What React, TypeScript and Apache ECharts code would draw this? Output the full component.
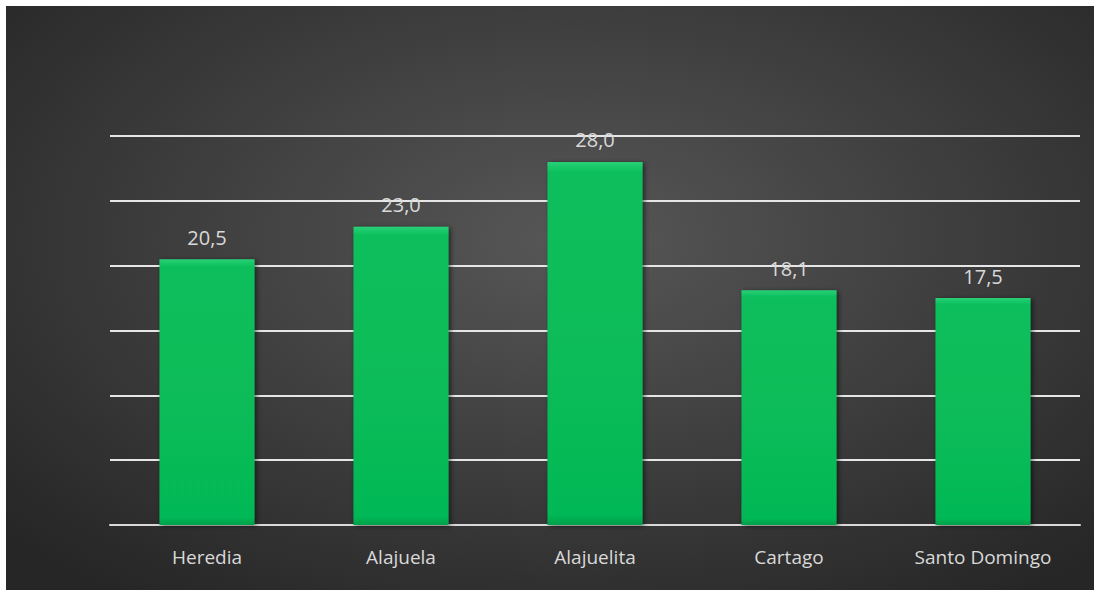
import React, { useEffect, useRef } from "react";
import * as echarts from "echarts";

const categories = ["Heredia", "Alajuela", "Alajuelita", "Cartago", "Santo Domingo"];
const values = [20.5, 23.0, 28.0, 18.1, 17.5];

export default function App() {
  const ref = useRef<HTMLDivElement>(null);
  useEffect(() => {
    const chart = echarts.init(ref.current!, undefined, { renderer: "svg" });
    chart.setOption({
      animation: false,
      grid: { left: 104, right: 14, top: 130, bottom: 65 },
      xAxis: {
        type: "category",
        data: categories,
        axisLine: { show: true, lineStyle: { color: "#d9d9d9", width: 2 } },
        axisTick: { show: false },
        axisLabel: {
          color: "#d9d9d9",
          fontSize: 19,
          fontFamily: "Open Sans, Lato, sans-serif",
          margin: 22,
        },
      },
      yAxis: {
        type: "value",
        min: 0,
        max: 30,
        interval: 5,
        axisLabel: { show: false },
        axisLine: { show: false },
        axisTick: { show: false },
        splitLine: { lineStyle: { color: "#e6e6e6", width: 2 } },
      },
      series: [
        {
          type: "bar",
          data: values,
          barWidth: "49%",
          itemStyle: {
            color: {
              type: "linear",
              x: 0,
              y: 0,
              x2: 0,
              y2: 1,
              colorStops: [
                { offset: 0, color: "#2ad077" },
                { offset: 0.03, color: "#08bf5b" },
                { offset: 0.97, color: "#06b956" },
                { offset: 1, color: "#05a04a" },
              ],
            },
            shadowColor: "rgba(0,0,0,0.55)",
            shadowBlur: 5,
            shadowOffsetX: 2,
            shadowOffsetY: 1,
          },
          label: {
            show: true,
            position: "top",
            distance: 12,
            color: "#d9d9d9",
            fontSize: 20,
            fontFamily: "Open Sans, Lato, sans-serif",
            formatter: (p: any) => p.value.toFixed(1).replace(".", ","),
          },
        },
      ],
    });
    return () => chart.dispose();
  }, []);
  return (
    <div
      style={{
        position: "absolute",
        left: 6,
        top: 6,
        width: 1088,
        height: 584,
        background:
          "radial-gradient(ellipse 70% 75% at 52% 40%, #575757 0%, #3c3c3c 55%, #262626 100%)",
      }}
    >
      <div ref={ref} style={{ width: 1088, height: 584 }} />
    </div>
  );
}
